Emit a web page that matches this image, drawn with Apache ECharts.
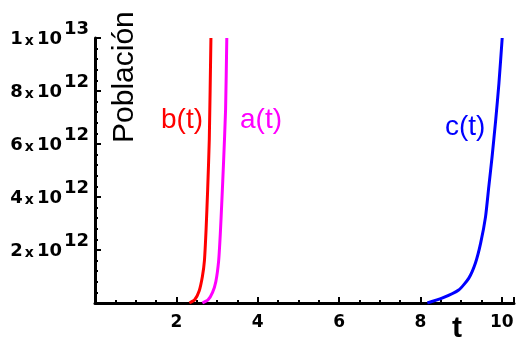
<!DOCTYPE html>
<html>
<head>
<meta charset="utf-8">
<script src="https://cdn.jsdelivr.net/npm/echarts@6/dist/echarts.min.js"></script>
<style>
  html, body {margin: 0; padding: 0; background: #fff;}
  #chart {width: 517px; height: 345px;}
</style>
</head>
<body>
<div id="chart"></div>
<script>
// t values and population (units of 1e12)
const tB = [2.32, 2.45, 2.56, 2.64, 2.69, 2.73, 2.77, 2.81, 2.85];
const yB = [0, 0.12, 0.45, 1.0, 1.6, 2.75, 4.3, 6.2, 10.0];
const tA = [2.64, 2.78, 2.89, 2.97, 3.04, 3.08, 3.12, 3.16, 3.21, 3.24];
const yA = [0, 0.12, 0.4, 0.8, 1.6, 2.6, 3.9, 5.3, 7.3, 10.0];
const tC = [8.17, 8.53, 8.94, 9.19, 9.35, 9.48, 9.60, 9.68, 9.76, 9.85, 9.93, 10.01];
const yC = [0, 0.18, 0.49, 0.94, 1.5, 2.26, 3.25, 4.38, 5.5, 6.9, 8.3, 10.0];
const xTicks = [2, 4, 6, 8, 10];
const SCALE = 1e12;

const pairs = (ts, ys) => ts.map((t, i) => [t, ys[i] * SCALE]);

const myChart = echarts.init(document.getElementById('chart'));
const tickFont = {fontFamily: 'DejaVu Sans', fontWeight: 'bold', color: '#000'};

myChart.setOption({
  animation: false,
  grid: {left: 95, right: 2, top: 38, bottom: 42},
  xAxis: {
    type: 'value',
    min: 0,
    max: 10.3,
    interval: 2,
    axisLine: {lineStyle: {color: '#000', width: 3}},
    axisTick: {inside: true, length: 6, lineStyle: {color: '#000', width: 2}},
    minorTick: {show: true, splitNumber: 4, length: 3, lineStyle: {color: '#000', width: 2}},
    splitLine: {show: false},
    axisLabel: {
      ...tickFont,
      fontSize: 17,
      margin: 11,
      formatter: v => (xTicks.indexOf(v) >= 0 ? String(v) : '')
    }
  },
  yAxis: {
    type: 'value',
    min: 0,
    max: 10 * SCALE,
    interval: 2 * SCALE,
    axisLine: {show: true, lineStyle: {color: '#000', width: 3}},
    axisTick: {show: true, inside: true, length: 6, lineStyle: {color: '#000', width: 2}},
    minorTick: {show: true, splitNumber: 5, length: 3, lineStyle: {color: '#000', width: 2}},
    splitLine: {show: false},
    axisLabel: {
      margin: 6,
      padding: [0, 0, 8, 0],
      formatter(v) {
        if (v === 0) return '';
        const m = v / SCALE;
        if (m === 10) return '{b|1}{x|x}{b|10}{s|13}';
        return '{b|' + m + '}{x|x}{b|10}{s|12}';
      },
      rich: {
        b: {...tickFont, fontSize: 18, verticalAlign: 'bottom', lineHeight: 28},
        x: {...tickFont, fontSize: 14, verticalAlign: 'bottom', lineHeight: 27, padding: [0, 3, 0, 2]},
        s: {...tickFont, fontSize: 18, verticalAlign: 'top', lineHeight: 14, padding: [0, 0, 0, 2]}
      }
    }
  },
  graphic: [
    {type: 'text', x: 110, y: 143, rotation: Math.PI / 2,
      style: {text: 'Población', font: '30px "Liberation Sans"', fill: '#000'}},
    {type: 'text', x: 452, y: 314,
      style: {text: 't', font: 'bold 30px "Liberation Sans"', fill: '#000'}},
    {type: 'text', x: 161, y: 106,
      style: {text: 'b(t)', font: '28px "Liberation Sans"', fill: '#ff0000'}},
    {type: 'text', x: 240, y: 106,
      style: {text: 'a(t)', font: '28px "Liberation Sans"', fill: '#ff00ff'}},
    {type: 'text', x: 445, y: 113,
      style: {text: 'c(t)', font: '28px "Liberation Sans"', fill: '#0000ff'}}
  ],
  series: [
    {name: 'b(t)', type: 'line', data: pairs(tB, yB), showSymbol: false, smooth: 0.2,
      lineStyle: {color: '#ff0000', width: 3}, z: 1},
    {name: 'a(t)', type: 'line', data: pairs(tA, yA), showSymbol: false, smooth: 0.2,
      lineStyle: {color: '#ff00ff', width: 3}, z: 1},
    {name: 'c(t)', type: 'line', data: pairs(tC, yC), showSymbol: false, smooth: 0.2,
      lineStyle: {color: '#0000ff', width: 3}, z: 1}
  ]
});
</script>
</body>
</html>
